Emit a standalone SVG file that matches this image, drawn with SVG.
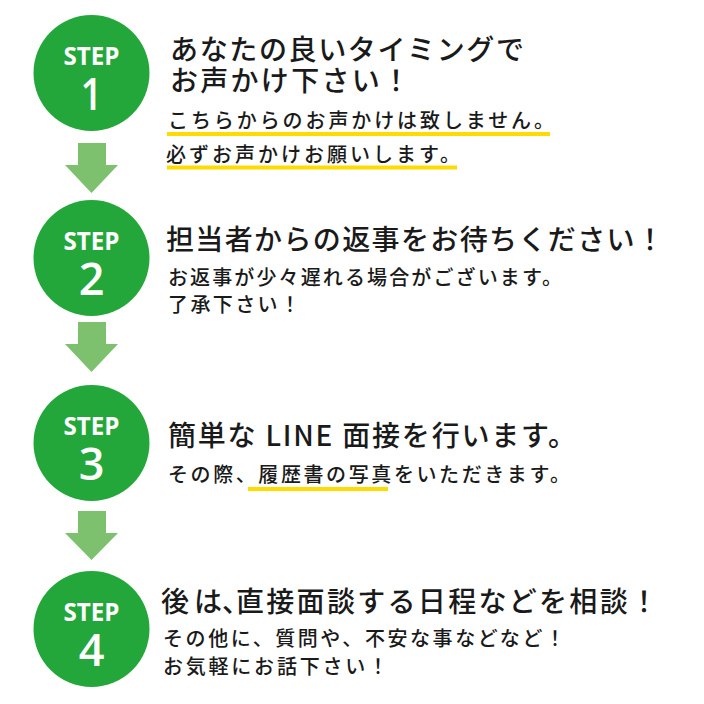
<svg xmlns="http://www.w3.org/2000/svg" width="704" height="704" viewBox="0 0 704 704">
<style>
.circ{fill:#23a73a}
.arrow{fill:#7dc16f}
.step{font-family:"Open Sans","Liberation Sans",sans-serif;font-weight:700;font-size:25px;fill:#fff;text-anchor:middle}
.num{font-family:"Open Sans","Liberation Sans",sans-serif;font-weight:600;font-size:45px;fill:#fff;text-anchor:middle}
.ttl{font-family:"Noto Sans CJK JP",sans-serif;font-weight:500;font-size:28px;fill:#1a1a1a}
.sub{font-family:"Noto Sans CJK JP",sans-serif;font-weight:500;font-size:20px;fill:#1a1a1a}
.ul{fill:#ffdb00}
</style>
<rect width="704" height="704" fill="#fff"/>
<g id="connectors">
<path class="arrow" d="M78,143H106V165H118L91.5,193L65,165H78Z"/>
<path class="arrow" d="M78,322H106V344H118L91.5,372L65,344H78Z"/>
<path class="arrow" d="M78,511H106V533H118L91.5,560L65,533H78Z"/>
</g>
<g id="step1">
<circle class="circ" cx="91.5" cy="73" r="58"/>
<text class="step" x="91.5" y="65" textLength="56" lengthAdjust="spacingAndGlyphs">STEP</text>
<text class="num" x="91.5" y="110" textLength="22" lengthAdjust="spacingAndGlyphs">1</text>
<rect class="ul" x="167" y="132" width="383" height="4"/>
<rect class="ul" x="167" y="165.5" width="290" height="4"/>
<text class="ttl" x="170" y="60" textLength="354" lengthAdjust="spacing">あなたの良いタイミングで</text>
<text class="ttl" x="170" y="91" textLength="240" lengthAdjust="spacing">お声かけ下さい！</text>
<text class="sub" x="168" y="128" textLength="386" lengthAdjust="spacing">こちらからのお声かけは致しません。</text>
<text class="sub" x="166" y="162" textLength="294" lengthAdjust="spacing">必ずお声かけお願いします。</text>
</g>
<g id="step2">
<circle class="circ" cx="91.5" cy="258" r="58"/>
<text class="step" x="91.5" y="250" textLength="56" lengthAdjust="spacingAndGlyphs">STEP</text>
<text class="num" x="91.5" y="295">2</text>
<text class="ttl" x="166" y="250" textLength="498" lengthAdjust="spacing">担当者からの返事をお待ちください！</text>
<text class="sub" x="168" y="285" textLength="394" lengthAdjust="spacing">お返事が少々遅れる場合がございます。</text>
<text class="sub" x="168" y="312" textLength="132" lengthAdjust="spacing">了承下さい！</text>
</g>
<g id="step3">
<circle class="circ" cx="91.5" cy="443" r="58"/>
<text class="step" x="91.5" y="435" textLength="56" lengthAdjust="spacingAndGlyphs">STEP</text>
<text class="num" x="91.5" y="480">3</text>
<rect class="ul" x="248" y="487" width="140" height="4"/>
<text class="ttl" x="168" y="446" textLength="408" lengthAdjust="spacing">簡単な LINE 面接を行います。</text>
<text class="sub" x="168" y="482" textLength="402" lengthAdjust="spacing">その際、履歴書の写真をいただきます。</text>
</g>
<g id="step4">
<circle class="circ" cx="91.5" cy="629" r="58"/>
<text class="step" x="91.5" y="621" textLength="56" lengthAdjust="spacingAndGlyphs">STEP</text>
<text class="num" x="91.5" y="666">4</text>
<text class="ttl" y="612"><tspan x="161" textLength="61" lengthAdjust="spacing">後は</tspan><tspan x="222">、</tspan><tspan x="236" textLength="422" lengthAdjust="spacing">直接面談する日程などを相談！</tspan></text>
<text class="sub" x="163" y="646" textLength="402" lengthAdjust="spacing">その他に、質問や、不安な事などなど！</text>
<text class="sub" x="163" y="674" textLength="225" lengthAdjust="spacing">お気軽にお話下さい！</text>
</g>
</svg>
